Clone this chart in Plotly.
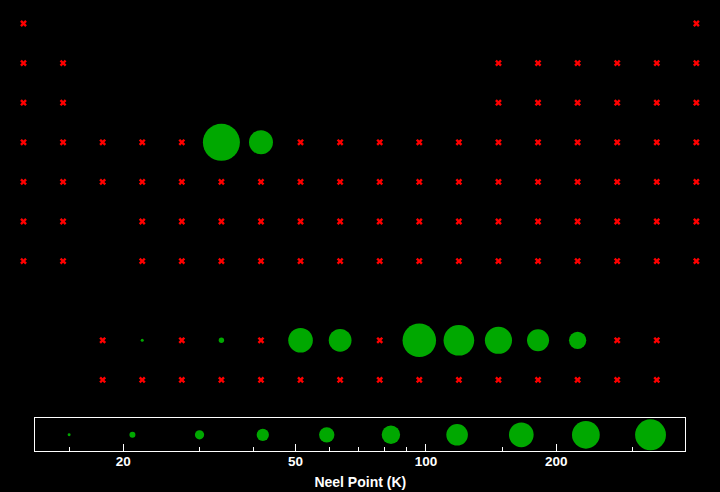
import math
import plotly.graph_objects as go

# ---- data: periodic-table grid (symbol, column, display row) and Neel points (K) ----
symbols = [
    "H", "He",
    "Li", "Be", "B", "C", "N", "O", "F", "Ne",
    "Na", "Mg", "Al", "Si", "P", "S", "Cl", "Ar",
    "K", "Ca", "Sc", "Ti", "V", "Cr", "Mn", "Fe", "Co", "Ni", "Cu", "Zn", "Ga", "Ge", "As", "Se", "Br", "Kr",
    "Rb", "Sr", "Y", "Zr", "Nb", "Mo", "Tc", "Ru", "Rh", "Pd", "Ag", "Cd", "In", "Sn", "Sb", "Te", "I", "Xe",
    "Cs", "Ba", "Hf", "Ta", "W", "Re", "Os", "Ir", "Pt", "Au", "Hg", "Tl", "Pb", "Bi", "Po", "At", "Rn",
    "Fr", "Ra", "Rf", "Db", "Sg", "Bh", "Hs", "Mt", "Ds", "Rg", "Cn", "Nh", "Fl", "Mc", "Lv", "Ts", "Og",
    "La", "Ce", "Pr", "Nd", "Pm", "Sm", "Eu", "Gd", "Tb", "Dy", "Ho", "Er", "Tm", "Yb", "Lu",
    "Ac", "Th", "Pa", "U", "Np", "Pu", "Am", "Cm", "Bk", "Cf", "Es", "Fm", "Md", "No", "Lr",
]
columns = (
    [1, 18]
    + [1, 2, 13, 14, 15, 16, 17, 18]
    + [1, 2, 13, 14, 15, 16, 17, 18]
    + list(range(1, 19))
    + list(range(1, 19))
    + [1, 2] + list(range(4, 19))
    + [1, 2] + list(range(4, 19))
    + list(range(3, 18))
    + list(range(3, 18))
)
rows = (
    [1] * 2 + [2] * 8 + [3] * 8 + [4] * 18 + [5] * 18 + [6] * 17 + [7] * 17
    + [9] * 15 + [10] * 15
)
neel_points = {
    "Cr": 311, "Mn": 100,
    "Ce": 12.5, "Nd": 19.9, "Sm": 106, "Eu": 90.4, "Tb": 230,
    "Dy": 179, "Ho": 132, "Er": 85, "Tm": 56,
}

# size key values (K) shown in the strip along the axis
key_values = [15, 21, 30, 42, 59, 83, 118, 166, 234, 330]
axis_ticks = [20, 50, 100, 200]
minor_ticks = [15, 30, 40, 60, 70, 80, 90, 150, 300]
axis_range = [12.53, 397]

GREEN = "#00a800"
RED = "#ff0000"
FONT = "Liberation Sans"


def grid_size(v):
    return max(3.0, 26.5 * math.log10(v / 12.5))


def key_size(v):
    return 20.8 * math.log10(v / 10.8)


mx, my, msym, nx, ny, nsym, msize = [], [], [], [], [], [], []
for s, c, r in zip(symbols, columns, rows):
    if s in neel_points:
        mx.append(c); my.append(r); msym.append(s)
        msize.append(grid_size(neel_points[s]))
    else:
        nx.append(c); ny.append(r); nsym.append(s)

fig = go.Figure()

fig.add_trace(go.Scatter(
    x=key_values, y=[0.5] * len(key_values), mode="markers",
    xaxis="x", yaxis="y",
    marker=dict(symbol="circle", size=[key_size(v) for v in key_values],
                color=GREEN, opacity=1, line=dict(width=0)),
    hoverinfo="x", showlegend=False,
))
fig.add_trace(go.Scatter(
    x=nx, y=ny, text=nsym, mode="markers", xaxis="x2", yaxis="y2",
    marker=dict(symbol="x", size=6, color=RED, opacity=1, line=dict(width=0)),
    hoverinfo="text", showlegend=False,
))
fig.add_trace(go.Scatter(
    x=mx, y=my, text=msym, mode="markers", xaxis="x2", yaxis="y2",
    marker=dict(symbol="circle", size=msize, color=GREEN, opacity=1, line=dict(width=0)),
    hoverinfo="text", showlegend=False,
))

# main grid axes (hidden)
cx = 39.58
x0 = 1 - 23.5 / cx
ry = 39.6
y0 = 1 - 23.5 / ry

fig.update_layout(
    width=720, height=492,
    margin=dict(l=0, r=0, t=0, b=0),
    paper_bgcolor="black", plot_bgcolor="rgba(0,0,0,0)",
    xaxis=dict(
        type="log", domain=[35.3 / 720, 685.3 / 720],
        range=[math.log10(axis_range[0]), math.log10(axis_range[1])],
        anchor="y", showline=True, mirror=True, linecolor="white", linewidth=1,
        showgrid=False, zeroline=False,
        tickmode="array", tickvals=axis_ticks, ticktext=[str(t) for t in axis_ticks],
        ticks="inside", ticklen=7, tickwidth=1, tickcolor="white",
        ticklabelstandoff=-3,
        minor=dict(tickmode="array", tickvals=minor_ticks, ticks="inside",
                   ticklen=4, tickwidth=1, tickcolor="white", showgrid=False),
        tickfont=dict(family=FONT, size=13.5, color="white", weight="bold"),
        title=dict(text="Neel Point (K)", standoff=9,
                   font=dict(family=FONT, size=14, color="white", weight="bold")),
        fixedrange=True,
    ),
    yaxis=dict(
        domain=[(492 - 451.3) / 492, (492 - 418.3) / 492], range=[0, 1],
        anchor="x", showline=True, mirror=True, linecolor="white", linewidth=1,
        showgrid=False, zeroline=False, showticklabels=False, ticks="",
        fixedrange=True,
    ),
    xaxis2=dict(domain=[0, 1], range=[x0, x0 + 720 / cx], visible=False,
                anchor="y2", fixedrange=True),
    yaxis2=dict(domain=[0, 1], range=[y0 + 492 / ry, y0], visible=False,
                anchor="x2", fixedrange=True),
)

fig.write_html("out.html")
